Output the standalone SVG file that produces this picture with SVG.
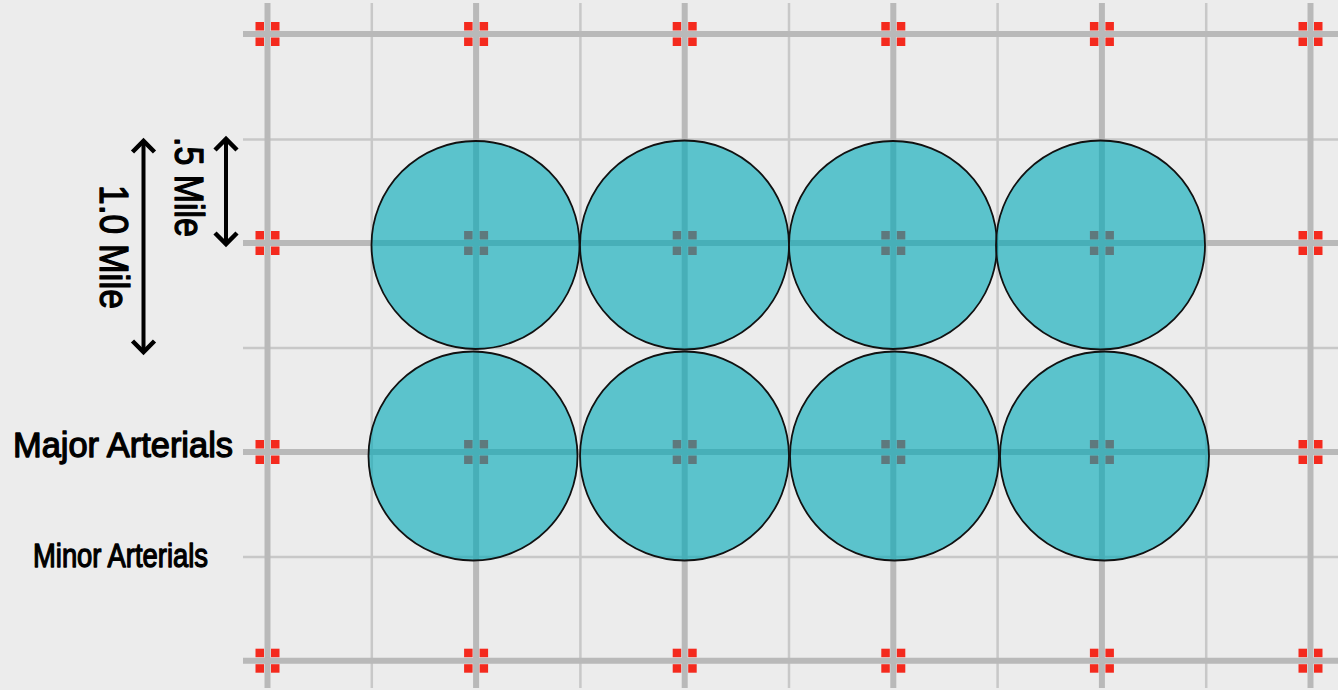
<svg xmlns="http://www.w3.org/2000/svg" width="1338" height="690" viewBox="0 0 1338 690">
<style>
.major{stroke:#b9b9b9;stroke-width:6;fill:none}
.minor{stroke:#c8c8c8;stroke-width:2.5;fill:none}
.red{fill:#f42a1e}
.zone{fill:#02aab8;fill-opacity:0.62;stroke:#111;stroke-width:1.8}
.lbl{font-family:"Liberation Sans",Arial,sans-serif;fill:#000;stroke:#000;stroke-width:1.3;stroke-linejoin:round}
.arrow{stroke:#000;stroke-width:4;fill:none}
.head{stroke:#000;stroke-width:4.5;fill:none;stroke-linejoin:miter}
</style>
<defs>
<g id="mk">
<rect x="-12" y="-12" width="8.5" height="8.5"/>
<rect x="3.5" y="-12" width="8.5" height="8.5"/>
<rect x="-12" y="3.5" width="8.5" height="8.5"/>
<rect x="3.5" y="3.5" width="8.5" height="8.5"/>
</g>
</defs>
<rect width="1338" height="690" fill="#ececec"/>
<g id="connectors">
<g id="minor-lines">
<line class="minor" x1="371.8" y1="3" x2="371.8" y2="688"/>
<line class="minor" x1="580.4" y1="3" x2="580.4" y2="688"/>
<line class="minor" x1="789" y1="3" x2="789" y2="688"/>
<line class="minor" x1="997.6" y1="3" x2="997.6" y2="688"/>
<line class="minor" x1="1206.2" y1="3" x2="1206.2" y2="688"/>
<line class="minor" x1="243" y1="139.5" x2="1338" y2="139.5"/>
<line class="minor" x1="243" y1="348" x2="1338" y2="348"/>
<line class="minor" x1="243" y1="557" x2="1338" y2="557"/>
</g>
<g id="major-lines">
<line class="major" x1="267.5" y1="3" x2="267.5" y2="688"/>
<line class="major" x1="476.1" y1="3" x2="476.1" y2="688"/>
<line class="major" x1="684.7" y1="3" x2="684.7" y2="688"/>
<line class="major" x1="893.3" y1="3" x2="893.3" y2="688"/>
<line class="major" x1="1101.9" y1="3" x2="1101.9" y2="688"/>
<line class="major" x1="1310.5" y1="3" x2="1310.5" y2="688"/>
<line class="major" x1="243" y1="34" x2="1338" y2="34"/>
<line class="major" x1="243" y1="243" x2="1338" y2="243"/>
<line class="major" x1="243" y1="452" x2="1338" y2="452"/>
<line class="major" x1="243" y1="660.7" x2="1338" y2="660.7"/>
</g>
</g>
<g id="intersections" class="red">
<use href="#mk" x="267.5" y="34"/><use href="#mk" x="476.1" y="34"/><use href="#mk" x="684.7" y="34"/><use href="#mk" x="893.3" y="34"/><use href="#mk" x="1101.9" y="34"/><use href="#mk" x="1310.5" y="34"/>
<use href="#mk" x="267.5" y="243"/><use href="#mk" x="476.1" y="243"/><use href="#mk" x="684.7" y="243"/><use href="#mk" x="893.3" y="243"/><use href="#mk" x="1101.9" y="243"/><use href="#mk" x="1310.5" y="243"/>
<use href="#mk" x="267.5" y="452"/><use href="#mk" x="476.1" y="452"/><use href="#mk" x="684.7" y="452"/><use href="#mk" x="893.3" y="452"/><use href="#mk" x="1101.9" y="452"/><use href="#mk" x="1310.5" y="452"/>
<use href="#mk" x="267.5" y="660.7"/><use href="#mk" x="476.1" y="660.7"/><use href="#mk" x="684.7" y="660.7"/><use href="#mk" x="893.3" y="660.7"/><use href="#mk" x="1101.9" y="660.7"/><use href="#mk" x="1310.5" y="660.7"/>
</g>
<g id="zones">
<circle id="zone-1" class="zone" cx="475.5" cy="245" r="104"/>
<circle id="zone-2" class="zone" cx="684.5" cy="245" r="104.5"/>
<circle id="zone-3" class="zone" cx="893" cy="245" r="104"/>
<circle id="zone-4" class="zone" cx="1100.5" cy="245" r="104.5"/>
<circle id="zone-5" class="zone" cx="473" cy="456" r="104.5"/>
<circle id="zone-6" class="zone" cx="684.5" cy="456" r="104.5"/>
<circle id="zone-7" class="zone" cx="894.5" cy="456" r="104.5"/>
<circle id="zone-8" class="zone" cx="1104.5" cy="456" r="104.5"/>
</g>
<g id="dimension-long">
<line class="arrow" x1="143.5" y1="141" x2="143.5" y2="352"/>
<polyline class="head" points="132.5,152 143.5,141 154.5,152"/>
<polyline class="head" points="132.5,341 143.5,352 154.5,341"/>
<text class="lbl" font-size="41" textLength="124" lengthAdjust="spacingAndGlyphs" transform="translate(100,185) rotate(90)">1.0 Mile</text>
</g>
<g id="dimension-short">
<line class="arrow" x1="226" y1="139" x2="226" y2="244"/>
<polyline class="head" points="215,150 226,139 237,150"/>
<polyline class="head" points="215,233 226,244 237,233"/>
<text class="lbl" font-size="41" textLength="100" lengthAdjust="spacingAndGlyphs" transform="translate(175,137) rotate(90)">.5 Mile</text>
</g>
<g id="label-major">
<text class="lbl" x="13" y="457" font-size="35" textLength="220" lengthAdjust="spacingAndGlyphs">Major Arterials</text>
</g>
<g id="label-minor">
<text class="lbl" x="33" y="567" font-size="33" textLength="175" lengthAdjust="spacingAndGlyphs">Minor Arterials</text>
</g>
</svg>
